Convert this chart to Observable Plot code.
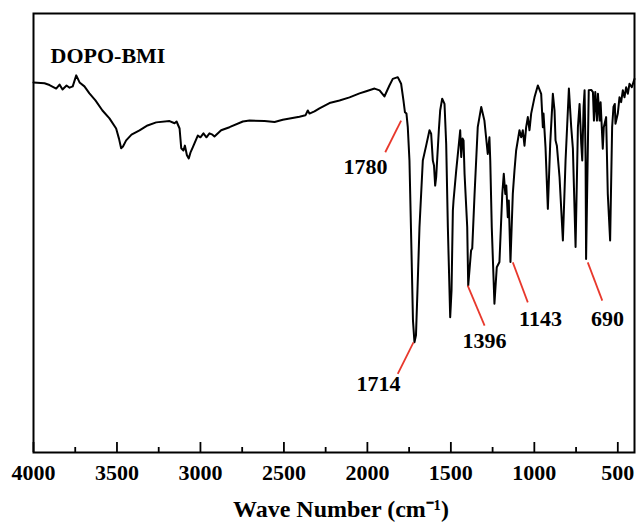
<!DOCTYPE html>
<html>
<head>
<meta charset="utf-8">
<script src="https://cdn.jsdelivr.net/npm/d3@7"></script>
<script src="https://cdn.jsdelivr.net/npm/@observablehq/plot@0.6"></script>
<style>
  html, body { margin: 0; padding: 0; background: #fff; }
</style>
</head>
<body>
<div id="chart"></div>
<script>
// ---- data (wavenumber in cm^-1, transmittance in arbitrary %) ----
const wavenumber = [
  4000, 3934, 3904, 3864, 3844, 3826, 3802, 3784, 3765, 3744, 3724, 3695, 3665, 3629, 3587, 3545, 3505,
  3488, 3475, 3464, 3445, 3413, 3365, 3317, 3265, 3185, 3155, 3143, 3125, 3115, 3102, 3093, 3081, 3070,
  3060, 3046, 3016, 3000, 2982, 2964, 2946, 2928, 2916, 2876, 2826, 2746, 2706, 2616, 2556, 2507, 2407,
  2371, 2357, 2347, 2317, 2287, 2227, 2167, 2107, 2047, 2007, 1957, 1927, 1898, 1868, 1848, 1818, 1798,
  1784, 1775, 1766, 1758, 1748, 1736, 1727, 1718, 1709, 1700, 1688, 1668, 1648, 1628, 1618, 1608, 1601,
  1594, 1588, 1572, 1564, 1552, 1538, 1528, 1518, 1504, 1496, 1488, 1484, 1468, 1452, 1444, 1438, 1430,
  1424, 1418, 1402, 1396, 1379, 1372, 1358, 1339, 1318, 1299, 1279, 1269, 1264, 1255, 1239, 1225, 1209,
  1192, 1183, 1174, 1168, 1159, 1153, 1143, 1129, 1119, 1109, 1089, 1079, 1069, 1059, 1049, 1039, 1029,
  1019, 999, 979, 959, 949, 945, 933, 919, 905, 889, 879, 873, 865, 849, 829, 813, 793, 779, 769, 753,
  739, 729, 719, 713, 705, 699, 693, 690, 674, 659, 649, 643, 635, 625, 619, 609, 603, 590, 584, 570,
  560, 546, 534, 526, 518, 514, 500, 490, 480, 470, 460, 450, 440, 430, 416, 400
];
const transmittance = [
  84.3, 84.1, 83.7, 82.9, 83.8, 82.7, 83.6, 83.1, 83.4, 85.9, 84.3, 83.4, 81.8, 80.2, 77.9, 76.1, 73.8,
  71.5, 69.3, 69.7, 71.1, 72.4, 73.4, 74.5, 75.2, 75.5, 75.0, 75.4, 73.8, 69.3, 68.8, 69.9, 67.7, 67.0,
  68.3, 69.5, 72.2, 71.8, 72.7, 71.8, 72.7, 72.4, 72.0, 73.4, 74.1, 75.4, 75.6, 75.5, 75.3, 75.8, 76.5,
  76.8, 77.9, 77.2, 77.7, 78.4, 79.6, 80.2, 80.9, 81.8, 82.3, 82.9, 82.5, 81.1, 83.6, 85.1, 85.5, 84.0,
  80.2, 77.5, 77.2, 74.1, 66.5, 46.0, 30.1, 25.1, 26.7, 36.9, 51.3, 66.5, 69.9, 73.4, 72.6, 66.5, 65.4,
  60.8, 62.7, 73.4, 77.9, 80.6, 79.4, 70.3, 51.3, 30.8, 36.9, 55.1, 57.4, 64.2, 70.3, 73.4, 67.3, 71.5,
  71.1, 63.5, 51.3, 38.0, 46.0, 46.5, 58.9, 74.1, 78.7, 75.6, 68.0, 71.8, 66.5, 51.3, 33.9, 42.2, 43.4,
  58.9, 63.5, 58.9, 60.8, 53.6, 57.4, 43.4, 58.9, 64.2, 68.8, 73.4, 71.8, 73.4, 69.9, 74.1, 76.4, 73.4,
  77.2, 80.9, 83.6, 81.7, 74.1, 77.2, 69.5, 55.5, 70.3, 81.7, 77.9, 71.1, 69.9, 62.7, 48.3, 66.5, 82.9,
  74.1, 69.2, 46.8, 74.1, 79.4, 70.3, 66.5, 78.7, 82.5, 66.5, 44.1, 82.5, 82.6, 82.1, 75.6, 82.1, 75.6,
  81.7, 75.6, 79.8, 69.2, 74.1, 76.4, 58.9, 48.3, 74.1, 78.7, 79.4, 74.9, 77.2, 80.9, 79.8, 82.5, 80.9,
  83.2, 81.7, 84.0, 83.2, 85.1
];

// tick values of the wavenumber axis
const majorTicks = [4000, 3500, 3000, 2500, 2000, 1500, 1000, 500];
const minorTicks = [3750, 3250, 2750, 2250, 1750, 1250, 750];

// peak annotations (line start on the band, line end, label centre) in data units
const peakLabels  = ["1780", "1714", "1396", "1143", "690"];
const peakStartWn = [1798, 1724, 1399, 1129, 680];
const peakStartT  = [75.6, 25.1, 38.0, 43.3, 43.3];
const peakEndWn   = [1893, 1818, 1298, 1039, 593];
const peakEndT    = [68.4, 17.9, 28.9, 34.2, 34.6];
const labelWn     = [2011, 1933, 1298, 963, 562];
const labelT      = [65.1, 15.7, 25.5, 30.5, 30.5];

const sampleName = "DOPO-BMI";
const xAxisLabel = "Wave Number (cm\u207B\u00B9)";

// ---- build tables ----
const spectrum = wavenumber.map((w, i) => ({w, t: transmittance[i]}));
const peaks = peakLabels.map((label, i) => ({
  label,
  x1: peakStartWn[i], y1: peakStartT[i],
  x2: peakEndWn[i], y2: peakEndT[i],
  lx: labelWn[i], ly: labelT[i]
}));

const W = 636, H = 526;
const mTop = 13, mBottom = 74, mLeft = 33, mRight = 2;
const pxPerT = (H - mTop - mBottom) / 100;
const serif = "'Liberation Serif', 'Times New Roman', serif";

const chart = Plot.plot({
  width: W,
  height: H,
  marginTop: mTop,
  marginBottom: mBottom,
  marginLeft: mLeft,
  marginRight: mRight,
  x: {domain: [4000, 400], axis: null},
  y: {domain: [0, 100], axis: null},
  style: {background: "#fff", fontFamily: serif, fontWeight: "bold", color: "#000", overflow: "visible"},
  marks: [
    // inward ticks
    Plot.ruleX(majorTicks, {x: d => d, y1: 0, y2: 10 / pxPerT, stroke: "#000", strokeWidth: 1.8}),
    Plot.ruleX(minorTicks, {x: d => d, y1: 0, y2: 5 / pxPerT, stroke: "#000", strokeWidth: 1.8}),
    // tick labels
    Plot.text(majorTicks, {
      x: d => d, y: 0, text: d => String(d), dy: 20, lineAnchor: "middle",
      fontSize: 22, fontWeight: "bold", fontFamily: serif, fill: "#000"
    }),
    // spectrum
    Plot.line(spectrum, {x: "w", y: "t", stroke: "#000", strokeWidth: 2, strokeLinejoin: "round"}),
    // annotations
    Plot.link(peaks, {x1: "x1", y1: "y1", x2: "x2", y2: "y2", stroke: "#e8382c", strokeWidth: 1.8}),
    Plot.text(peaks, {
      x: "lx", y: "ly", text: "label", lineAnchor: "middle", textAnchor: "middle",
      fontSize: 22, fontWeight: "bold", fontFamily: serif, fill: "#000"
    }),
    // sample name
    Plot.text([sampleName], {
      frameAnchor: "top-left", text: d => d, dx: 17, dy: 42, textAnchor: "start", lineAnchor: "middle",
      fontSize: 22, fontWeight: "bold", fontFamily: serif, fill: "#000"
    }),
    // axis title
    Plot.text([xAxisLabel], {
      frameAnchor: "bottom", text: d => d, dx: 7, dy: 57, lineAnchor: "middle", textAnchor: "middle",
      fontSize: 24, fontWeight: "bold", fontFamily: serif, fill: "#000"
    }),
    // frame
    Plot.frame({stroke: "#000", strokeWidth: 2})
  ]
});

document.getElementById("chart").appendChild(chart);
</script>
</body>
</html>
